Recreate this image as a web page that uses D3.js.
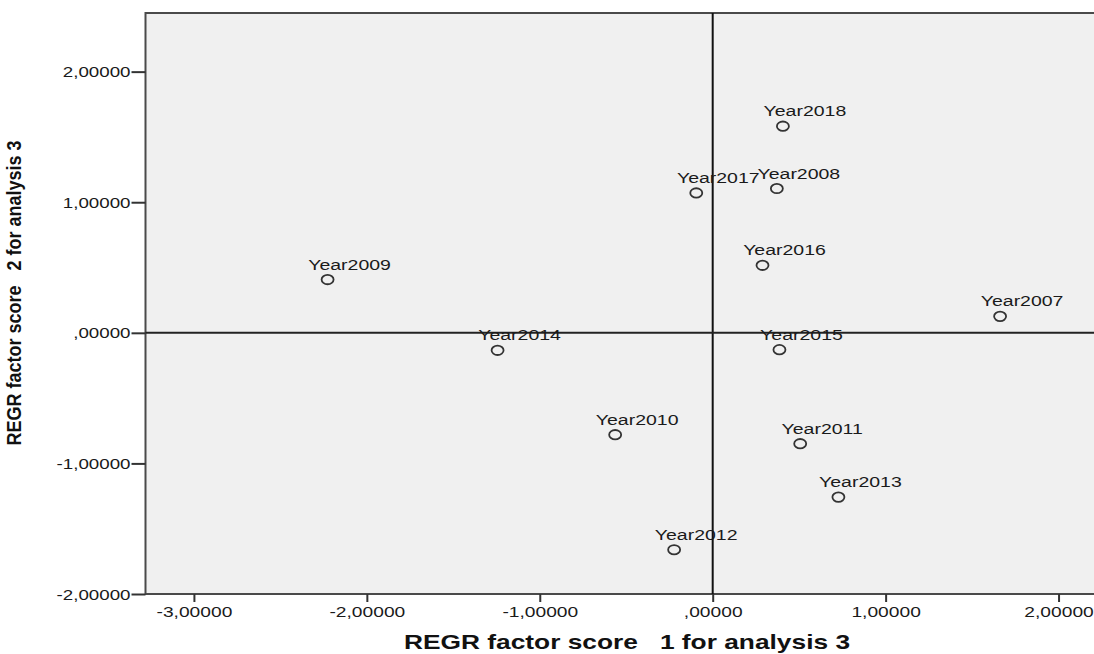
<!DOCTYPE html>
<html><head><meta charset="utf-8">
<script src="https://cdn.jsdelivr.net/npm/d3@7"></script>
<style>body{margin:0;background:#fff}svg{display:block}</style></head>
<body>
<svg id="c" width="1094" height="654"></svg>
<script>
const years   = ["Year2007","Year2008","Year2009","Year2010","Year2011","Year2012","Year2013","Year2014","Year2015","Year2016","Year2017","Year2018"];
const factor1 = [1.662, 0.371, -2.227, -0.564, 0.506, -0.223, 0.727, -1.244, 0.386, 0.288, -0.095, 0.406];
const factor2 = [0.126, 1.105, 0.408, -0.780, -0.849, -1.661, -1.258, -0.134, -0.129, 0.517, 1.071, 1.582];
const xTicks = [-3, -2, -1, 0, 1, 2];
const yTicks = [-2, -1, 0, 1, 2];
const xTitle = "REGR factor score   1 for analysis 3";
const yTitle = "REGR factor score   2 for analysis 3";

const svg = d3.select("#c");
const L = 145.5, R = 1094, T = 13, B = 594;
const SX = 1.28; // horizontal stretch of text
const font = "'Liberation Sans', Arial, sans-serif";

const x = d3.scaleLinear().domain([-3.28, 2.205]).range([L, R]);
const y = d3.scaleLinear().domain([-2, 2.449]).range([B, T]);

const fmt = d => (d < 0 ? "-" : "") + (d === 0 ? "" : String(Math.abs(d))) + ",00000";

// plot background
svg.append("rect").attr("x", L).attr("y", T).attr("width", R - L + 10).attr("height", B - T)
  .attr("fill", "#f0f0f0").attr("stroke", "#4a4a4a").attr("stroke-width", 2);

// reference lines at zero
svg.append("line").attr("x1", x(0)).attr("x2", x(0)).attr("y1", T).attr("y2", B)
  .attr("stroke", "#111").attr("stroke-width", 2);
svg.append("line").attr("x1", L).attr("x2", R).attr("y1", y(0)).attr("y2", y(0))
  .attr("stroke", "#222").attr("stroke-width", 2);

// x axis
const gx = svg.append("g").attr("transform", `translate(0,${B})`)
  .call(d3.axisBottom(x).tickValues(xTicks).tickSize(8).tickFormat(fmt));
gx.select(".domain").remove();
gx.selectAll(".tick line").attr("stroke", "#333").attr("stroke-width", 2);
gx.selectAll(".tick text").attr("y", null).attr("dy", null)
  .attr("transform", `translate(0,23) scale(${SX},1)`)
  .attr("font-family", font).attr("font-size", 15).attr("fill", "#1a1a1a");

// y axis
const gy = svg.append("g").attr("transform", `translate(${L},0)`)
  .call(d3.axisLeft(y).tickValues(yTicks).tickSize(14).tickFormat(fmt));
gy.select(".domain").remove();
gy.selectAll(".tick line").attr("stroke", "#333").attr("stroke-width", 2);
gy.selectAll(".tick text").attr("x", null).attr("dy", null)
  .attr("transform", `translate(-15,5) scale(1.25,1)`)
  .attr("text-anchor", "end")
  .attr("font-family", font).attr("font-size", 15).attr("fill", "#1a1a1a");

// axis titles
svg.append("text").text(xTitle)
  .attr("transform", `translate(627,649) scale(1.35,1)`)
  .attr("text-anchor", "middle").style("white-space", "pre")
  .attr("font-family", font).attr("font-weight", "bold").attr("font-size", 19.5).attr("fill", "#111");
svg.append("text").text(yTitle)
  .attr("transform", `translate(21,293) scale(1.1,1) rotate(-90)`)
  .attr("text-anchor", "middle").style("white-space", "pre")
  .attr("font-family", font).attr("font-weight", "bold").attr("font-size", 18).attr("fill", "#111");

// points
const data = years.map((n, i) => ({ n, a: factor1[i], b: factor2[i] }));
const g = svg.append("g");
g.selectAll("ellipse").data(data).join("ellipse")
  .attr("cx", d => x(d.a)).attr("cy", d => y(d.b))
  .attr("rx", 6).attr("ry", 4.7)
  .attr("fill", "none").attr("stroke", "#333").attr("stroke-width", 1.8);
g.selectAll("text").data(data).join("text")
  .text(d => d.n)
  .attr("transform", d => `translate(${x(d.a) + 22},${y(d.b) - 10}) scale(1.3,1)`)
  .attr("text-anchor", "middle")
  .attr("font-family", font).attr("font-size", 15).attr("fill", "#1a1a1a");
</script>
</body></html>
